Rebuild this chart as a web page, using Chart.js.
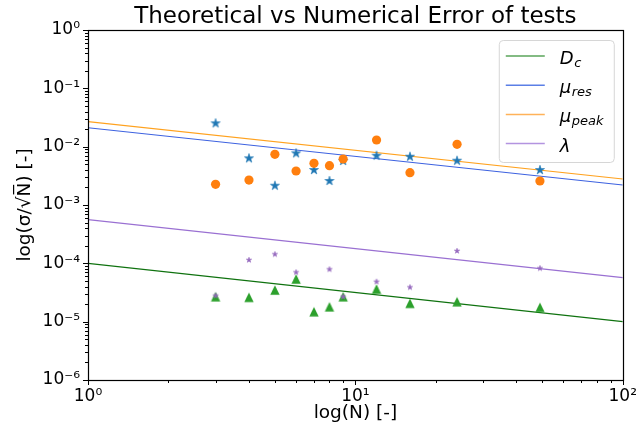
<!DOCTYPE html>
<html>
<head>
<meta charset="utf-8">
<script src="https://cdn.jsdelivr.net/npm/chart.js@4.4.0/dist/chart.umd.min.js"></script>
<style>
html, body { margin: 0; padding: 0; background: #fff; }
</style>
</head>
<body>
<canvas id="errorChart" width="643" height="432"></canvas>
<script>
// measured points, one per test size N
const nValues = [3, 4, 5, 6, 7, 8, 9, 12, 16, 24, 49];
const muResErr = [0.0251, 0.00631, 0.00214, 0.00769, 0.00398, 0.00258, 0.00568, 0.0070, 0.00673, 0.00574, 0.00398];
const muPeakErr = [0.00226, 0.00268, 0.0074, 0.00383, 0.00519, 0.00472, 0.00614, 0.0130, 0.00358, 0.01097, 0.00258];
const dcErr = [2.68e-5, 2.61e-5, 3.49e-5, 5.38e-5, 1.48e-5, 1.80e-5, 2.68e-5, 3.63e-5, 2.06e-5, 2.20e-5, 1.76e-5];
const lambdaErr = [2.79e-5, 1.14e-4, 1.43e-4, 7.01e-5, null, 7.89e-5, 2.68e-5, 4.84e-5, 3.88e-5, 1.63e-4, 8.22e-5];

// theoretical lines, given at both ends of the N range
const fitN = [1, 100];
const dcFit = [1.0e-4, 1.0e-5];
const muResFit = [0.0211, 0.0022];
const muPeakFit = [0.0268, 0.00279];
const lambdaFit = [5.62e-4, 5.69e-5];

const lineLabels = ['D_c', 'μ_res', 'μ_peak', 'λ'];
const xMajors = [1, 10, 100];
const xTickLabels = ['10⁰', '10¹', '10²'];
const yMajors = [1e-6, 1e-5, 1e-4, 1e-3, 1e-2, 1e-1, 1];
const yTickLabels = ['10⁻⁶', '10⁻⁵', '10⁻⁴', '10⁻³', '10⁻²', '10⁻¹', '10⁰'];

const pts = (xs, ys) => xs.map((x, i) => ({x: x, y: ys[i]}));

function starMarker(r, color) {
  const size = 2 * Math.ceil(r + 1);
  const c = document.createElement('canvas');
  c.width = c.height = size;
  const g = c.getContext('2d');
  g.beginPath();
  for (let i = 0; i < 10; i++) {
    const rad = i % 2 ? r * 0.382 : r;
    const a = -Math.PI / 2 + i * Math.PI / 5;
    g.lineTo(size / 2 + rad * Math.cos(a), size / 2 + rad * Math.sin(a));
  }
  g.closePath();
  g.fillStyle = color;
  g.fill();
  g.lineWidth = 0.6;
  g.strokeStyle = color;
  g.stroke();
  return c;
}

function triangleMarker(a, color) {
  const size = 2 * Math.ceil(a + 1);
  const c = document.createElement('canvas');
  c.width = c.height = size;
  const g = c.getContext('2d');
  const m = size / 2;
  g.beginPath();
  g.moveTo(m, m - a);
  g.lineTo(m + a, m + a);
  g.lineTo(m - a, m + a);
  g.closePath();
  g.fillStyle = color;
  g.fill();
  return c;
}

function decadeTicks(lo, hi) {
  const out = [];
  for (let e = lo; e < hi; e++) {
    for (let s = 1; s < 10; s++) out.push({value: s * Math.pow(10, e), major: s === 1});
  }
  out.push({value: Math.pow(10, hi), major: true});
  return out;
}

function majorLabel(v, majors, labels) {
  for (let i = 0; i < majors.length; i++) {
    if (Math.abs(Math.log10(v) - Math.log10(majors[i])) < 1e-6) return labels[i];
  }
  return '';
}

const lineColors = ['#0f720f', '#3d62e0', '#ffa21f', '#9a70d2'];
const legendColors = ['#5aa55a', '#5b7fe6', '#ffb259', '#b394e0'];

// frame, tick marks and the math legend
const framePlugin = {
  id: 'framePlugin',
  afterDraw(chart) {
    const {ctx, chartArea: a, scales} = chart;
    ctx.save();
    ctx.strokeStyle = '#000';
    ctx.lineWidth = 1;
    ctx.beginPath();
    scales.x.ticks.forEach(t => {
      const px = Math.round(scales.x.getPixelForValue(t.value)) + 0.5;
      ctx.moveTo(px, a.bottom);
      ctx.lineTo(px, a.bottom + (t.major ? 5 : 3));
    });
    scales.y.ticks.forEach(t => {
      const py = Math.round(scales.y.getPixelForValue(t.value)) + 0.5;
      ctx.moveTo(a.left, py);
      ctx.lineTo(a.left - (t.major ? 5 : 3), py);
    });
    ctx.stroke();
    ctx.lineWidth = 1.2;
    ctx.strokeRect(Math.round(a.left) + 0.5, Math.round(a.top) + 0.5,
      Math.round(a.right - a.left), Math.round(a.bottom - a.top));

    // legend
    const bx = a.right - 124, by = a.top + 10, bw = 115, bh = 122;
    ctx.beginPath();
    ctx.roundRect(bx + 0.5, by + 0.5, bw, bh, 4);
    ctx.fillStyle = 'rgba(255,255,255,0.85)';
    ctx.fill();
    ctx.strokeStyle = '#d6d6d6';
    ctx.lineWidth = 1;
    ctx.stroke();
    lineLabels.forEach((lab, i) => {
      const ly = by + 16 + i * 29.2;
      ctx.strokeStyle = legendColors[i];
      ctx.lineWidth = 1.5;
      ctx.beginPath();
      ctx.moveTo(bx + 7, ly);
      ctx.lineTo(bx + 46, ly);
      ctx.stroke();
      const parts = lab.split('_');
      ctx.fillStyle = '#000';
      ctx.textBaseline = 'alphabetic';
      ctx.textAlign = 'left';
      ctx.font = 'italic 18px "DejaVu Sans"';
      const tx = bx + 61;
      ctx.fillText(parts[0], tx, ly + 8);
      if (parts[1]) {
        const w = ctx.measureText(parts[0]).width;
        ctx.font = 'italic 13px "DejaVu Sans"';
        ctx.fillText(parts[1], tx + w + 0.5, ly + 11);
      }
    });
    ctx.restore();
  }
};

const lineSet = (label, ys, i) => ({
  label: label,
  data: pts(fitN, ys),
  showLine: true,
  borderColor: lineColors[i],
  borderWidth: 1.2,
  pointRadius: 0,
  order: 10
});

const ctx = document.getElementById('errorChart').getContext('2d');
const errorChart = new Chart(ctx, {
  type: 'scatter',
  data: {
    datasets: [
      lineSet(lineLabels[0], dcFit, 0),
      lineSet(lineLabels[1], muResFit, 1),
      lineSet(lineLabels[2], muPeakFit, 2),
      lineSet(lineLabels[3], lambdaFit, 3),
      {
        label: 'mu_res points',
        data: pts(nValues, muResErr),
        pointStyle: starMarker(4.8, '#1f77b4'),
        order: 4
      },
      {
        label: 'mu_peak points',
        data: pts(nValues, muPeakErr),
        pointStyle: 'circle',
        pointRadius: 4.6,
        backgroundColor: '#ff7f0e',
        borderColor: '#ff7f0e',
        borderWidth: 0,
        order: 3
      },
      {
        label: 'D_c points',
        data: pts(nValues, dcErr),
        pointStyle: triangleMarker(4.7, '#2ca02c'),
        order: 2
      },
      {
        label: 'lambda points',
        data: pts(nValues, lambdaErr),
        pointStyle: starMarker(2.8, '#9467bd'),
        order: 1
      }
    ]
  },
  options: {
    responsive: false,
    animation: false,
    devicePixelRatio: 1,
    layout: {padding: {left: 0, right: 18, top: 0, bottom: 0}},
    plugins: {
      legend: {display: false},
      tooltip: {enabled: false},
      title: {
        display: true,
        text: 'Theoretical vs Numerical Error of tests',
        fullSize: false,
        color: '#000',
        font: {family: 'DejaVu Sans', size: 23, weight: 'normal', lineHeight: 1},
        padding: {top: 6, bottom: 1}
      }
    },
    scales: {
      x: {
        type: 'logarithmic',
        min: 1,
        max: 100,
        afterFit: s => { s.height = 52; },
        afterBuildTicks: s => { s.ticks = decadeTicks(0, 2); },
        grid: {display: false, drawTicks: false},
        border: {display: false},
        ticks: {
          autoSkip: false,
          maxRotation: 0,
          padding: 6,
          color: '#000',
          font: {family: 'DejaVu Sans', size: 17},
          callback: v => majorLabel(v, xMajors, xTickLabels)
        },
        title: {
          display: true,
          text: 'log(N) [-]',
          color: '#000',
          font: {family: 'DejaVu Sans', size: 18.5, lineHeight: 1.2},
          padding: {top: 0, bottom: 7.9}
        }
      },
      y: {
        type: 'logarithmic',
        min: 1e-6,
        max: 1,
        afterFit: s => { s.width = 88; },
        afterBuildTicks: s => { s.ticks = decadeTicks(-6, 0); },
        grid: {display: false, drawTicks: false},
        border: {display: false},
        ticks: {
          autoSkip: false,
          padding: 8,
          color: '#000',
          font: {family: 'DejaVu Sans', size: 17},
          callback: v => majorLabel(v, yMajors, yTickLabels)
        },
        title: {
          display: true,
          text: 'log(σ/√N̅) [-]',
          color: '#000',
          font: {family: 'DejaVu Sans', size: 18.5, lineHeight: 1.2},
          padding: {top: 13.9, bottom: 0}
        }
      }
    }
  },
  plugins: [framePlugin]
});
</script>
</body>
</html>
